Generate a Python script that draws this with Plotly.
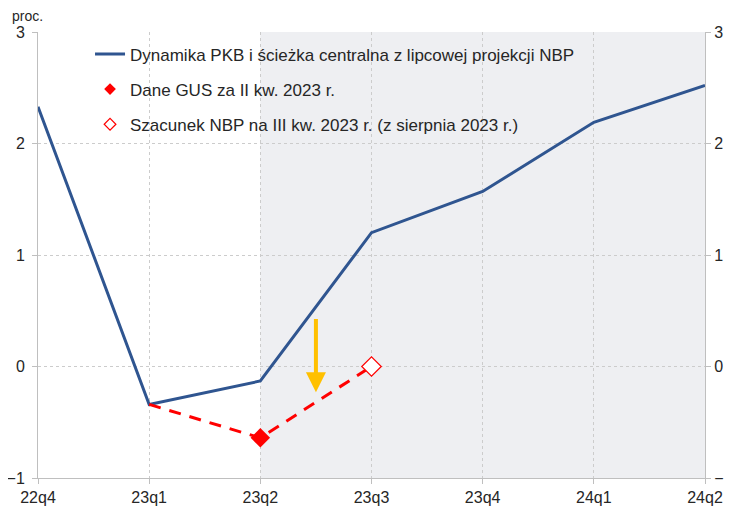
import plotly.graph_objects as go

quarters = ["22q4", "23q1", "23q2", "23q3", "23q4", "24q1", "24q2"]
gdp_path = [2.33, -0.34, -0.13, 1.20, 1.57, 2.19, 2.52]
estimate_x = ["23q1", "23q2", "23q3"]
estimate_y = [-0.34, -0.64, 0.0]
gus_x = ["23q2"]
gus_y = [-0.64]
nbp_x = ["23q3"]
nbp_y = [0.0]
arrow_from = 0.44
arrow_to = -0.23
y_ticks = [-1, 0, 1, 2, 3]

FONT = "Liberation Sans, Arial, sans-serif"
TXT = "#262626"
AX = "#bfbfbf"
blue = "#2f5590"
red = "#ff0000"

fig = go.Figure()
fig.add_trace(go.Scatter(x=quarters, y=gdp_path, mode="lines",
                         line=dict(color=blue, width=3),
                         name="Dynamika PKB i ścieżka centralna z lipcowej projekcji NBP",
                         legendgroup="a"))
fig.add_trace(go.Scatter(x=estimate_x, y=estimate_y, mode="lines",
                         line=dict(color=red, width=3, dash="12px,9px"),
                         showlegend=False, hoverinfo="skip"))
fig.add_trace(go.Scatter(x=gus_x, y=gus_y, mode="markers",
                         marker=dict(symbol="diamond", color=red, size=15,
                                     line=dict(width=0)),
                         showlegend=False))
fig.add_trace(go.Scatter(x=nbp_x, y=nbp_y, mode="markers",
                         marker=dict(symbol="diamond", color="white", size=15,
                                     line=dict(color=red, width=1.2)),
                         showlegend=False))
# legend entries with smaller symbols
fig.add_trace(go.Scatter(x=[None], y=[None], mode="markers",
                         marker=dict(symbol="diamond", color=red, size=9,
                                     line=dict(width=0)),
                         name="Dane GUS za II kw. 2023 r.", legendgroup="b"))
fig.add_trace(go.Scatter(x=[None], y=[None], mode="markers",
                         marker=dict(symbol="diamond", color="white", size=9,
                                     line=dict(color=red, width=1.2)),
                         name="Szacunek NBP na III kw. 2023 r. (z sierpnia 2023 r.)",
                         legendgroup="c"))
# invisible trace for the right axis
fig.add_trace(go.Scatter(x=quarters, y=gdp_path, mode="lines", yaxis="y2",
                         line=dict(width=0), opacity=0, showlegend=False,
                         hoverinfo="skip"))

fig.add_shape(type="rect", xref="x", yref="y", x0=2, x1=6, y0=-1, y1=3,
              fillcolor="#eeeff2", line=dict(width=0), layer="below")

fig.add_annotation(x=2.5, y=arrow_to, ax=2.5, ay=arrow_from, axref="x", ayref="y",
                   xref="x", yref="y", text="", showarrow=True,
                   arrowcolor="#ffc000", arrowwidth=4, arrowhead=2, arrowsize=1)
fig.add_annotation(x=0, y=1, xref="paper", yref="paper", xanchor="right",
                   yanchor="middle", xshift=6, yshift=16, text="proc.", showarrow=False,
                   borderpad=0, font=dict(size=14, color=TXT, family=FONT))

axis_common = dict(showgrid=True, gridcolor="#cccccc", griddash="3px,3px", gridwidth=1,
                   showline=True, linecolor=AX, linewidth=1,
                   ticks="outside", ticklen=5, tickcolor=AX, automargin=False,
                   zeroline=False, tickfont=dict(size=16, color=TXT, family=FONT))

fig.update_layout(
    width=724, height=499,
    margin=dict(l=30, r=27, t=24, b=29, autoexpand=False),
    paper_bgcolor="white", plot_bgcolor="white",
    font=dict(family=FONT, size=16, color=TXT),
    showlegend=True,
    legend=dict(x=0.078, y=0.99, xanchor="left", yanchor="top",
                bgcolor="rgba(0,0,0,0)", traceorder="grouped",
                tracegroupgap=10, font=dict(size=17, family=FONT, color=TXT),
                itemwidth=30),
    xaxis=dict(type="category", categoryorder="array", categoryarray=quarters,
               range=[0, 6], **axis_common),
    yaxis=dict(range=[-1, 3], tickvals=y_ticks, ticklabelstandoff=4, **axis_common),
    yaxis2=dict(range=[-1, 3], tickvals=y_ticks, overlaying="y", side="right",
                showgrid=False, showline=True, linecolor=AX, ticks="outside",
                ticklen=5, tickcolor=AX, zeroline=False, automargin=False,
                tickfont=dict(size=16, color=TXT, family=FONT)),
)

fig.write_html("out.html")
